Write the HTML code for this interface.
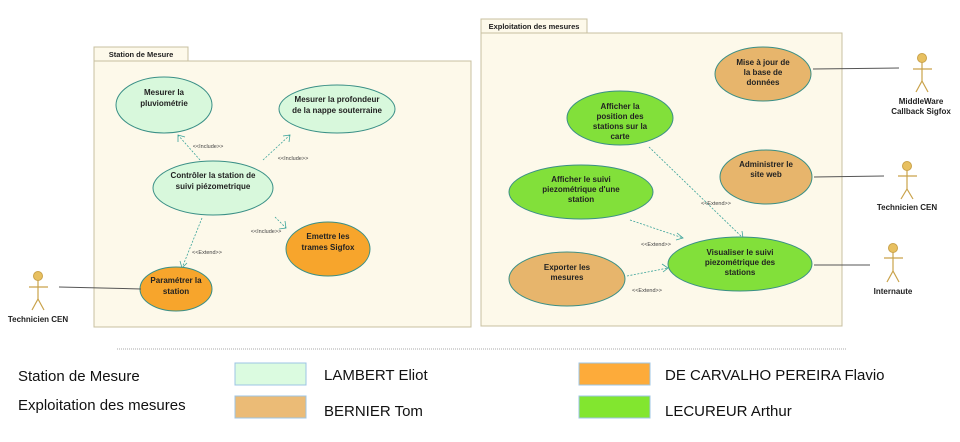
<!DOCTYPE html>
<html><head><meta charset="utf-8"><style>
html,body{margin:0;padding:0;background:#fff;}
svg{display:block;font-family:"Liberation Sans",Arial,sans-serif;}
.t{font-size:8px;font-weight:bold;fill:#222;text-anchor:middle;}
.s{font-size:5.5px;fill:#444;text-anchor:middle;}
.l{font-size:15px;fill:#111;}
.e{stroke:#3a8f86;stroke-width:1;}
.d{stroke:#3aa39a;stroke-width:0.8;stroke-dasharray:2,1.5;fill:none;}
.a{stroke:#3aa39a;stroke-width:0.8;fill:none;}
.act{stroke:#c9a24a;stroke-width:1.2;fill:none;}
</style></head><body>
<svg width="960" height="442" viewBox="0 0 960 442">
<!-- Station de Mesure package -->
<rect x="94" y="47" width="94" height="14" fill="#fdf9ea" stroke="#c8c0a0"/>
<text x="141" y="57" class="t" style="font-size:7.5px">Station de Mesure</text>
<rect x="94" y="61" width="377" height="266" fill="#fdf9ea" stroke="#c8c0a0"/>
<!-- Exploitation package -->
<rect x="481" y="19" width="106" height="14" fill="#fdf9ea" stroke="#c8c0a0"/>
<text x="534" y="29" class="t" style="font-size:7.5px">Exploitation des mesures</text>
<rect x="481" y="33" width="361" height="293" fill="#fdf9ea" stroke="#c8c0a0"/>

<!-- left connectors -->
<line x1="200" y1="160" x2="178" y2="135" class="d"/><polyline points="178,142 178,135 185,137" class="a"/>
<line x1="263" y1="160" x2="290" y2="135" class="d"/><polyline points="283,136 290,135 289,142" class="a"/>
<line x1="275" y1="217" x2="286" y2="228" class="d"/><polyline points="279,229 286,228 285,221" class="a"/>
<line x1="202" y1="218" x2="182" y2="268" class="d"/><polyline points="180,261 182,268 187,263" class="a"/>
<text x="208" y="148" class="s">&lt;&lt;Include&gt;&gt;</text>
<text x="293" y="160" class="s">&lt;&lt;Include&gt;&gt;</text>
<text x="266" y="233" class="s">&lt;&lt;Include&gt;&gt;</text>
<text x="207" y="254" class="s">&lt;&lt;Extend&gt;&gt;</text>

<!-- left ellipses -->
<ellipse cx="164" cy="105" rx="48" ry="28" fill="#d8f8dc" class="e"/>
<text x="164" y="95" class="t">Mesurer la</text><text x="164" y="106" class="t">pluviométrie</text>
<ellipse cx="337" cy="109" rx="58" ry="24" fill="#d8f8dc" class="e"/>
<text x="337" y="102" class="t">Mesurer la profondeur</text><text x="337" y="113" class="t">de la nappe souterraine</text>
<ellipse cx="213" cy="188" rx="60" ry="27" fill="#d8f8dc" class="e"/>
<text x="213" y="178" class="t">Contrôler la station de</text><text x="213" y="189" class="t">suivi piézometrique</text>
<ellipse cx="328" cy="249" rx="42" ry="27" fill="#f7a52c" class="e"/>
<text x="328" y="239" class="t">Emettre les</text><text x="328" y="250" class="t">trames Sigfox</text>
<ellipse cx="176" cy="289" rx="36" ry="22" fill="#f7a52c" class="e"/>
<text x="176" y="283" class="t">Paramétrer la</text><text x="176" y="294" class="t">station</text>

<!-- left actor -->
<line x1="59" y1="287" x2="141" y2="289" stroke="#555" stroke-width="1"/>
<circle cx="38" cy="276" r="4.5" fill="#e8c060" stroke="#c9a24a"/>
<line x1="38" y1="280" x2="38" y2="299" class="act"/><line x1="29" y1="287" x2="48" y2="287" class="act"/>
<polyline points="32,310 38,299 44,310" class="act"/>
<text x="38" y="322" class="t">Technicien CEN</text>

<!-- right connectors -->
<line x1="649" y1="147" x2="743" y2="238" class="d"/><polyline points="736,237 743,238 742,231" class="a"/>
<line x1="630" y1="220" x2="683" y2="238" class="d"/><polyline points="677,233 683,238 676,240" class="a"/>
<line x1="627" y1="276" x2="668" y2="268" class="d"/><polyline points="662,264 668,268 663,272" class="a"/>
<text x="716" y="205" class="s">&lt;&lt;Extend&gt;&gt;</text>
<text x="656" y="246" class="s">&lt;&lt;Extend&gt;&gt;</text>
<text x="647" y="292" class="s">&lt;&lt;Extend&gt;&gt;</text>

<!-- right ellipses -->
<ellipse cx="763" cy="74" rx="48" ry="27" fill="#e7b56c" class="e"/>
<text x="763" y="65" class="t">Mise à jour de</text><text x="763" y="75" class="t">la base de</text><text x="763" y="85" class="t">données</text>
<ellipse cx="620" cy="118" rx="53" ry="27" fill="#82e03a" class="e"/>
<text x="620" y="109" class="t">Afficher la</text><text x="620" y="119" class="t">position des</text><text x="620" y="129" class="t">stations sur la</text><text x="620" y="139" class="t">carte</text>
<ellipse cx="766" cy="177" rx="46" ry="27" fill="#e7b56c" class="e"/>
<text x="766" y="167" class="t">Administrer le</text><text x="766" y="177" class="t">site web</text>
<ellipse cx="581" cy="192" rx="72" ry="27" fill="#82e03a" class="e"/>
<text x="581" y="182" class="t">Afficher le suivi</text><text x="581" y="192" class="t">piezométrique d'une</text><text x="581" y="202" class="t">station</text>
<ellipse cx="740" cy="264" rx="72" ry="27" fill="#82e03a" class="e"/>
<text x="740" y="255" class="t">Visualiser le suivi</text><text x="740" y="265" class="t">piezométrique des</text><text x="740" y="275" class="t">stations</text>
<ellipse cx="567" cy="279" rx="58" ry="27" fill="#e7b56c" class="e"/>
<text x="567" y="270" class="t">Exporter les</text><text x="567" y="280" class="t">mesures</text>

<!-- right actors -->
<line x1="813" y1="69" x2="899" y2="68" stroke="#555"/>
<line x1="814" y1="177" x2="884" y2="176" stroke="#555"/>
<line x1="814" y1="265" x2="870" y2="265" stroke="#555"/>
<g>
<circle cx="922" cy="58" r="4.5" fill="#e8c060" stroke="#c9a24a"/>
<line x1="922" y1="62" x2="922" y2="81" class="act"/><line x1="913" y1="69" x2="932" y2="69" class="act"/>
<polyline points="916,92 922,81 928,92" class="act"/>
<text x="921" y="104" class="t">MiddleWare</text><text x="921" y="114" class="t">Callback Sigfox</text>
</g>
<g>
<circle cx="907" cy="166" r="4.5" fill="#e8c060" stroke="#c9a24a"/>
<line x1="907" y1="170" x2="907" y2="189" class="act"/><line x1="898" y1="176" x2="917" y2="176" class="act"/>
<polyline points="901,199 907,189 913,199" class="act"/>
<text x="907" y="210" class="t">Technicien CEN</text>
</g>
<g>
<circle cx="893" cy="248" r="4.5" fill="#e8c060" stroke="#c9a24a"/>
<line x1="893" y1="252" x2="893" y2="271" class="act"/><line x1="884" y1="258" x2="903" y2="258" class="act"/>
<polyline points="887,282 893,271 899,282" class="act"/>
<text x="893" y="294" class="t">Internaute</text>
</g>

<!-- legend -->
<line x1="117" y1="349" x2="846" y2="349" stroke="#aaa" stroke-width="1" stroke-dasharray="1,1"/>
<text x="18" y="381" class="l">Station de Mesure</text>
<text x="18" y="410" class="l">Exploitation des mesures</text>
<rect x="235" y="363" width="71" height="22" fill="#dbfbe0" stroke="#9cc4e4"/>
<rect x="235" y="396" width="71" height="22" fill="#ebbb76" stroke="#9cc4e4"/>
<rect x="579" y="363" width="71" height="22" fill="#fdab3a" stroke="#9cc4e4"/>
<rect x="579" y="396" width="71" height="22" fill="#82e62f" stroke="#9cc4e4"/>
<text x="324" y="380" class="l">LAMBERT Eliot</text>
<text x="324" y="416" class="l">BERNIER Tom</text>
<text x="665" y="380" class="l">DE CARVALHO PEREIRA Flavio</text>
<text x="665" y="416" class="l">LECUREUR Arthur</text>
</svg>
</body></html>
